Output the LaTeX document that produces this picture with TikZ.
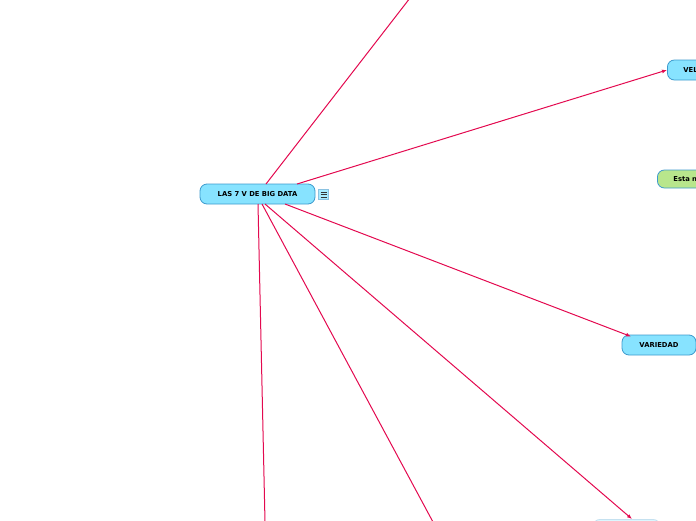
\documentclass[tikz,border=0pt]{standalone}
\usepackage{fontspec}
\setmainfont{DejaVu Sans}
\usetikzlibrary{arrows.meta}
\definecolor{linkc}{HTML}{E3094F}
\definecolor{nodefill}{HTML}{87E3FF}
\definecolor{nodeedge}{HTML}{3D9ACD}
\definecolor{greenfill}{HTML}{B8E68C}
\definecolor{iconfill}{HTML}{A8ECFF}
\begin{document}
\begin{tikzpicture}[x=1pt,y=-1pt,
  topic/.style={draw=nodeedge, line width=0.8pt, fill=nodefill, rounded corners=7pt, inner sep=0pt, font=\fontsize{6.8}{7.5}\selectfont\bfseries},
  link/.style={draw=linkc, line width=1pt},
  arr/.style={link, -{Latex[length=5pt,width=4pt]}}]
\useasboundingbox (0,0) rectangle (696,520);
\clip (0,0) rectangle (696,520);
% nodes
\node[topic, minimum width=115pt, minimum height=20pt] (main) at (257.5,194) {LAS 7 V DE BIG DATA};
\node[draw=nodeedge!60, fill=iconfill, minimum size=10pt, inner sep=0pt] (menu) at (323.5,194.5) {};
\draw[black!80, line width=0.7pt] (320.5,192) -- (326.5,192) (320.5,194.5) -- (326.5,194.5) (320.5,197) -- (326.5,197);
\node[topic, anchor=west, minimum width=70pt, minimum height=20pt, text width=50pt, align=left] (vel) at (667,70) {\hspace*{6pt}VEL};
\node[topic, fill=greenfill, anchor=west, minimum width=70pt, minimum height=18pt, text width=50pt, align=left] (green) at (657,179) {\hspace*{6pt}Esta n};
\node[topic, minimum width=74pt, minimum height=20pt] (var) at (659,345) {VARIEDAD};
\node[topic, draw=nodeedge!30, fill=nodefill!30, anchor=north, minimum width=67pt, minimum height=20pt] (br) at (626.5,519) {};
\coordinate (top) at (410,-2);
\coordinate (b1) at (265,522);
\coordinate (b2) at (433,522);
% links
\draw[link] (266,184) -- (top);
\draw[arr] (297,184) -- (vel.west);
\draw[arr] (285,204) -- (631,336.5);
\draw[arr] (265,204) -- (632,519);
\draw[link] (258,204) -- (b1);
\draw[link] (262,204) -- (b2);
\end{tikzpicture}
\end{document}
